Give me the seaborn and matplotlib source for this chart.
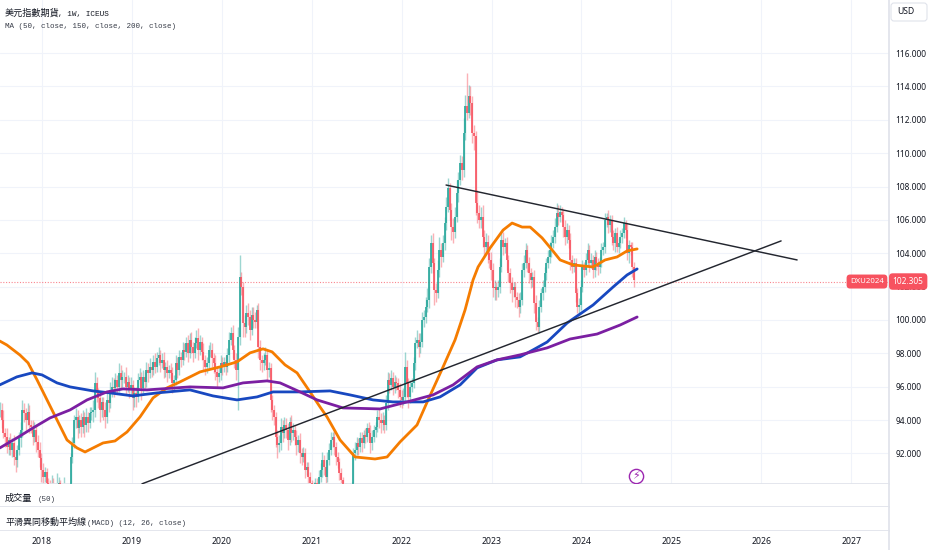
import matplotlib
matplotlib.use("Agg")
import matplotlib.pyplot as plt
from matplotlib.patches import FancyBboxPatch
from matplotlib.transforms import IdentityTransform
import numpy as np
import pandas as pd
import seaborn as sns

# weekly closes, first bar is mid 2017
closes = [
    94.6, 94.0, 93.2, 93.0, 92.4, 92.8, 92.2, 92.6, 91.8, 91.6,
    92.2, 92.9, 93.4, 94.6, 94.4, 94.0, 94.5, 93.7, 93.6, 93.0,
    93.4, 92.7, 92.2, 91.7, 91.0, 90.6, 90.9, 90.2, 89.9, 89.6,
    90.1, 89.8, 89.5, 89.9, 90.2, 89.6, 89.4, 89.8, 89.7, 89.5,
    89.9, 91.8, 92.6, 94.0, 94.2, 93.5, 94.0, 93.6, 94.2, 93.7,
    94.2, 93.8, 94.4, 94.5, 94.6, 96.2, 95.6, 95.3, 94.6, 95.1,
    94.6, 94.2, 95.2, 95.0, 95.8, 96.0, 95.9, 96.4, 96.0, 96.8,
    96.4, 96.6, 96.6, 96.0, 96.3, 95.8, 96.1, 95.3, 95.6, 95.4,
    96.4, 96.6, 95.9, 96.6, 96.3, 97.0, 96.8, 97.2, 97.0, 97.5,
    97.2, 97.7, 97.9, 97.4, 97.6, 97.0, 97.2, 96.8, 97.0, 96.8,
    96.2, 96.4, 97.4, 97.0, 97.8, 97.6, 98.2, 98.1, 98.6, 98.0,
    98.8, 98.4, 98.0, 98.6, 98.9, 98.2, 98.7, 98.1, 97.6, 97.2,
    97.4, 98.2, 98.2, 97.7, 97.4, 96.9, 96.6, 96.8, 97.4, 97.2,
    97.5, 97.2, 97.9, 98.8, 99.2, 98.2, 97.6, 97.0, 99.0, 102.6,
    102.0, 99.8, 99.6, 100.4, 100.2, 99.4, 100.3, 100.0, 99.9, 100.6,
    98.4, 97.6, 97.4, 97.6, 97.9, 97.0, 97.1, 95.2, 94.6, 94.2,
    93.0, 92.5, 92.6, 93.6, 93.2, 93.7, 93.4, 92.8, 93.9, 93.2,
    93.4, 93.0, 92.5, 92.8, 92.0, 91.8, 92.0, 91.0, 91.2, 90.6,
    90.2, 90.0, 89.8, 90.2, 90.0, 90.6, 91.0, 91.6, 91.2, 90.6,
    91.6, 92.2, 92.8, 93.0, 92.4, 91.8, 91.5, 90.8, 90.4, 90.0,
    89.9, 89.9, 89.8, 89.9, 90.0, 92.0, 92.2, 92.6, 92.4, 92.9,
    92.6, 93.1, 93.0, 93.5, 93.2, 92.6, 93.0, 93.4, 93.6, 94.2,
    94.0, 93.8, 94.0, 93.7, 95.0, 96.4, 96.1, 96.5, 96.0, 96.3,
    96.2, 95.8, 95.4, 95.2, 95.4, 97.2, 96.2, 95.4, 96.0, 96.2,
    97.4, 98.6, 98.8, 98.4, 98.7, 100.0, 100.2, 100.8, 101.2, 103.2,
    104.6, 103.4, 101.8, 101.6, 103.0, 104.2, 103.8, 104.6, 105.8, 106.8,
    107.9, 106.6, 105.6, 105.3, 106.2, 107.6, 108.4, 109.4, 109.0, 111.2,
    112.8, 112.4, 113.4, 113.0, 111.2, 111.0, 107.0, 106.4, 106.0, 106.2,
    105.0, 104.4, 104.7, 104.0, 103.6, 103.0, 101.9, 102.0, 101.8, 102.0,
    103.2, 104.8, 104.4, 104.6, 103.6, 102.8, 102.2, 101.8, 102.0, 101.4,
    101.2, 100.8, 101.2, 103.0, 103.4, 104.2, 103.4, 102.8, 102.4, 102.6,
    101.0, 99.9, 99.6, 100.8, 101.6, 102.0, 102.8, 103.4, 103.8, 104.2,
    104.6, 105.0, 105.6, 106.4, 106.2, 106.5, 106.3, 105.6, 105.0, 105.4,
    104.8, 103.6, 103.2, 103.4, 101.6, 100.8, 100.9, 102.0, 103.2, 103.0,
    103.6, 104.2, 103.4, 103.6, 103.0, 103.8, 103.4, 103.2, 103.5, 104.2,
    104.4, 106.0, 106.2, 105.7, 106.0, 105.0, 104.6, 105.2, 104.4, 104.6,
    105.0, 105.2, 105.8, 105.4, 104.0, 104.5, 104.4, 103.2, 102.4,
]

# how far each wick sticks out above / below the body
wick_up = [
    0.5, 0.4, 0.6, 0.3, 0.5, 0.2, 0.4, 0.3, 0.5, 0.4,
    0.3, 0.4, 0.5, 0.6, 0.4, 0.3, 0.5, 0.4, 0.3, 0.4,
    0.5, 0.3, 0.4, 0.5, 0.3, 0.4, 0.3, 0.2, 0.3, 0.5,
    0.6, 0.4, 0.3, 0.9, 0.4, 0.2, 0.5, 0.8, 0.3, 0.2,
    0.1, 0.2, 0.4, 0.3, 0.5, 0.4, 0.3, 0.4, 0.4, 0.3,
    0.5, 0.3, 0.4, 0.3, 0.6, 0.7, 0.4, 0.3, 0.4, 0.3,
    0.3, 0.5, 0.4, 0.3, 0.5, 0.6, 0.5, 0.4, 0.3, 0.6,
    0.5, 0.4, 0.3, 0.6, 0.4, 0.3, 0.5, 0.3, 0.4, 0.4,
    0.4, 0.5, 0.3, 0.4, 0.3, 0.5, 0.4, 0.5, 0.3, 0.4,
    0.5, 0.4, 0.5, 0.3, 0.4, 0.5, 0.3, 0.4, 0.3, 0.4,
    0.4, 0.3, 0.5, 0.4, 0.4, 0.3, 0.5, 0.4, 0.4, 0.5,
    0.4, 0.5, 0.3, 0.4, 0.5, 0.6, 0.4, 0.3, 0.5, 0.3,
    0.4, 0.3, 0.5, 0.4, 0.3, 0.5, 0.3, 0.4, 0.5, 0.4,
    0.3, 0.4, 0.4, 0.5, 0.4, 0.5, 0.3, 0.4, 0.6, 1.3,
    0.3, 0.3, 0.5, 0.5, 0.6, 0.4, 0.5, 0.5, 0.5, 0.3,
    0.4, 0.4, 0.3, 0.4, 0.5, 0.3, 0.4, 0.3, 0.3, 0.3,
    0.3, 0.4, 0.5, 0.5, 0.4, 0.5, 0.4, 0.4, 0.3, 0.4,
    0.4, 0.3, 0.4, 0.3, 0.4, 0.3, 0.4, 0.3, 0.3, 0.3,
    0.3, 0.2, 0.3, 0.3, 0.3, 0.4, 0.4, 0.5, 0.3, 0.4,
    0.5, 0.4, 0.5, 0.3, 0.4, 0.3, 0.3, 0.2, 0.3, 0.2,
    0.2, 0.3, 0.2, 0.3, 0.3, 0.3, 0.5, 0.4, 0.3, 0.4,
    0.4, 0.3, 0.4, 0.3, 0.4, 0.5, 0.4, 0.3, 0.3, 0.4,
    0.5, 0.4, 0.5, 0.3, 0.5, 0.5, 0.4, 0.5, 0.4, 0.4,
    0.3, 0.3, 0.4, 0.4, 0.5, 0.9, 0.4, 0.3, 0.4, 0.3,
    0.4, 0.4, 0.6, 0.4, 0.5, 0.5, 0.4, 0.6, 0.7, 0.5,
    0.5, 0.6, 0.3, 0.4, 0.6, 0.8, 0.4, 0.5, 0.4, 0.6,
    0.6, 0.3, 0.4, 0.5, 0.6, 0.8, 0.5, 0.5, 0.4, 0.9,
    0.7, 2.0, 0.7, 0.6, 0.4, 0.5, 0.3, 0.8, 0.5, 0.6,
    0.7, 0.4, 0.5, 0.4, 0.3, 0.5, 0.4, 0.4, 0.3, 0.4,
    0.5, 0.4, 0.5, 0.3, 0.4, 0.3, 0.3, 0.4, 0.3, 0.3,
    0.3, 0.4, 0.5, 0.4, 0.5, 0.4, 0.3, 0.4, 0.3, 0.3,
    0.4, 0.5, 0.3, 0.4, 0.3, 0.4, 0.4, 0.3, 0.4, 0.5,
    0.5, 0.4, 0.5, 0.6, 0.5, 0.4, 0.3, 0.3, 0.4, 0.4,
    0.3, 0.4, 0.3, 0.3, 0.3, 0.3, 0.4, 0.4, 0.4, 0.3,
    0.4, 0.4, 0.3, 0.4, 0.3, 0.4, 0.3, 0.3, 0.3, 0.4,
    0.3, 0.4, 0.2, 0.4, 0.3, 0.3, 0.4, 0.3, 0.4, 0.3,
    0.4, 0.3, 0.4, 0.2, 0.4, 0.3, 0.2, 0.3, 0.3,
]
wick_down = [
    0.4, 0.5, 0.3, 0.6, 0.4, 0.5, 0.3, 0.4, 0.5, 0.7,
    0.4, 0.3, 0.5, 0.4, 0.5, 0.6, 0.3, 0.5, 0.4, 0.5,
    0.3, 0.6, 0.4, 0.5, 0.7, 0.4, 0.3, 0.4, 0.3, 0.4,
    0.3, 0.4, 0.3, 0.3, 0.4, 0.3, 0.3, 0.3, 0.3, 0.3,
    0.3, 0.3, 0.4, 0.3, 0.5, 0.6, 0.3, 0.6, 0.4, 0.7,
    0.4, 0.5, 0.3, 0.4, 0.6, 0.4, 0.5, 0.6, 0.7, 0.4,
    0.6, 0.7, 0.4, 0.5, 0.3, 0.4, 0.5, 0.3, 0.4, 0.3,
    0.5, 0.4, 0.4, 0.5, 0.3, 0.5, 0.3, 0.7, 0.5, 0.6,
    0.3, 0.4, 0.7, 0.3, 0.4, 0.3, 0.5, 0.3, 0.4, 0.3,
    0.4, 0.3, 0.4, 0.5, 0.3, 0.5, 0.4, 0.5, 0.3, 0.4,
    0.6, 0.4, 0.3, 0.5, 0.3, 0.4, 0.3, 0.5, 0.3, 0.5,
    0.3, 0.4, 0.5, 0.3, 0.3, 0.6, 0.3, 0.5, 0.6, 0.5,
    0.4, 0.3, 0.4, 0.5, 0.6, 0.5, 0.6, 0.3, 0.4, 0.5,
    0.3, 0.5, 0.3, 0.4, 0.3, 0.5, 0.5, 0.6, 2.4, 0.5,
    0.5, 0.8, 0.6, 0.4, 0.5, 0.6, 0.3, 0.5, 0.4, 0.4,
    0.7, 0.6, 0.5, 0.4, 0.3, 0.6, 0.4, 0.7, 0.6, 0.5,
    0.6, 0.8, 0.4, 0.4, 0.5, 0.3, 0.5, 0.6, 0.3, 0.5,
    0.4, 0.5, 0.6, 0.4, 0.6, 0.5, 0.3, 0.5, 0.3, 0.5,
    0.4, 0.4, 0.3, 0.3, 0.4, 0.3, 0.3, 0.4, 0.5, 0.4,
    0.3, 0.3, 0.3, 0.4, 0.5, 0.5, 0.4, 0.4, 0.3, 0.3,
    0.3, 0.3, 0.3, 0.3, 0.3, 0.3, 0.4, 0.3, 0.5, 0.3,
    0.5, 0.3, 0.4, 0.3, 0.4, 0.6, 0.4, 0.3, 0.4, 0.3,
    0.5, 0.6, 0.4, 0.5, 0.3, 0.4, 0.5, 0.3, 0.5, 0.4,
    0.4, 0.5, 0.6, 0.5, 0.3, 0.4, 0.8, 0.7, 0.4, 0.3,
    0.3, 0.4, 0.3, 0.6, 0.4, 0.3, 0.4, 0.4, 0.3, 0.5,
    0.4, 0.6, 0.9, 0.5, 0.3, 0.4, 0.6, 0.3, 0.4, 0.4,
    0.3, 0.6, 0.8, 0.7, 0.4, 0.3, 0.5, 0.3, 0.6, 0.4,
    0.4, 0.4, 0.3, 0.7, 0.6, 0.8, 0.7, 0.6, 0.5, 0.5,
    0.6, 0.5, 0.4, 0.6, 0.5, 0.6, 0.5, 0.7, 0.6, 0.4,
    0.4, 0.3, 0.5, 0.4, 0.6, 0.5, 0.6, 0.7, 0.4, 0.6,
    0.5, 0.6, 0.4, 0.3, 0.4, 0.3, 0.5, 0.6, 0.5, 0.4,
    0.6, 0.5, 0.3, 0.4, 0.3, 0.4, 0.3, 0.4, 0.3, 0.4,
    0.4, 0.3, 0.4, 0.3, 0.5, 0.3, 0.4, 0.6, 0.5, 0.4,
    0.5, 0.6, 0.4, 0.3, 0.5, 0.4, 0.5, 0.3, 0.3, 0.4,
    0.3, 0.4, 0.5, 0.3, 0.5, 0.4, 0.4, 0.5, 0.4, 0.3,
    0.3, 0.4, 0.4, 0.5, 0.4, 0.5, 0.4, 0.5, 0.3, 0.4,
    0.3, 0.4, 0.3, 0.5, 0.4, 0.6, 0.5, 0.6, 0.4,
]

# moving averages, (year, price) pairs
ma50_years = [2017.53, 2017.61, 2017.755, 2017.845, 2017.945, 2018.056, 2018.167, 2018.278, 2018.39, 2018.479,
              2018.59, 2018.679, 2018.812, 2018.946, 2019.09, 2019.235, 2019.39, 2019.535, 2019.758, 2019.98,
              2020.169, 2020.314, 2020.458, 2020.559, 2020.703, 2020.837, 2020.981, 2021.092, 2021.17, 2021.315,
              2021.482, 2021.704, 2021.838, 2021.982, 2022.171, 2022.294, 2022.461, 2022.594, 2022.705, 2022.794,
              2022.85, 2022.984, 2023.128, 2023.228, 2023.34, 2023.429, 2023.562, 2023.673, 2023.762, 2023.907,
              2024.129, 2024.263, 2024.396, 2024.507, 2024.619]
ma50_vals = [98.74, 98.50, 97.9, 97.43, 96.41, 95.21, 94.01, 92.81, 92.33, 92.09,
             92.39, 92.63, 92.75, 93.29, 94.19, 95.33, 95.93, 96.29, 96.89, 97.19,
             97.49, 98.03, 98.27, 98.09, 97.31, 96.83, 95.69, 94.79, 94.19, 92.81,
             91.79, 91.67, 91.79, 92.69, 93.71, 95.21, 97.19, 98.81, 100.6, 102.4,
             103.18, 104.32, 105.39, 105.81, 105.57, 105.57, 104.92, 104.2, 103.6, 103.3,
             103.18, 103.6, 103.78, 104.14, 104.26]

ma150_years = [2017.53, 2017.72, 2017.889, 2018.0, 2018.167, 2018.312, 2018.567, 2018.757, 2019.012, 2019.279,
               2019.646, 2019.902, 2020.169, 2020.392, 2020.57, 2020.87, 2021.204, 2021.426, 2021.682, 2021.904,
               2022.238, 2022.427, 2022.65, 2022.839, 2023.061, 2023.317, 2023.462, 2023.618, 2023.84, 2024.129,
               2024.352, 2024.507, 2024.619]
ma150_vals = [96.11, 96.59, 96.83, 96.71, 96.23, 95.99, 95.75, 95.63, 95.45, 95.63,
              95.81, 95.45, 95.21, 95.39, 95.69, 95.69, 95.75, 95.51, 95.21, 95.09,
              95.09, 95.39, 96.11, 97.13, 97.61, 97.79, 98.21, 98.68, 99.82, 100.9,
              101.98, 102.7, 103.06]

ma200_years = [2017.53, 2017.72, 2017.9, 2018.089, 2018.312, 2018.501, 2018.723, 2018.901, 2019.168, 2019.646,
               2020.013, 2020.236, 2020.503, 2020.648, 2020.87, 2021.059, 2021.348, 2021.76, 2022.06, 2022.349,
               2022.572, 2022.839, 2023.061, 2023.317, 2023.618, 2023.873, 2024.174, 2024.43, 2024.619]
ma200_vals = [92.33, 92.93, 93.53, 94.13, 94.61, 95.21, 95.69, 95.87, 95.81, 95.99,
              95.93, 96.23, 96.35, 96.23, 95.69, 95.21, 94.73, 94.67, 95.09, 95.51,
              96.11, 97.19, 97.61, 97.91, 98.33, 98.86, 99.16, 99.7, 100.18]

# hand drawn trend lines
falling_years = [2022.494, 2026.398]
falling_vals = [108.09, 103.60]
rising_years = [2019.112, 2026.22]
rising_vals = [90.18, 104.74]

last_price = 102.305
signal_year = 2024.61
signal_price = 90.62

price_ticks = list(range(92, 118, 2))
year_ticks = list(range(2018, 2028))

GRID = "#f0f3fa"
BORDER = "#e0e3eb"
UP = "#26a69a"
DOWN = "#f7525f"
TEXT = "#131722"
CJK = ["Liberation Mono", "Noto Sans CJK TC", "DejaVu Sans"]

sns.set_theme(style="white")
plt.rcParams["font.family"] = ["Noto Sans", "DejaVu Sans"]

W, H = 932, 550
PANE_R, PANE_B, VOL_B, MACD_B = 889, 484, 507, 531
YEAR_L, YEAR_R = 2017.533, 2027.42
PRICE_LO, PRICE_HI = 90.17, 119.18


def pane(top, bottom):
    ax = fig.add_axes([0, 1 - bottom / H, PANE_R / W, (bottom - top) / H])
    ax.set_xlim(YEAR_L, YEAR_R)
    for s in ax.spines.values():
        s.set_visible(False)
    ax.spines["bottom"].set_visible(True)
    ax.spines["bottom"].set_color(BORDER)
    ax.spines["right"].set_visible(True)
    ax.spines["right"].set_color(BORDER)
    ax.set_yticks([])
    ax.set_xticks([])
    return ax


def label(x, y, s, size, color=TEXT):
    # y is the text baseline so mixed fonts line up
    fig.text(x / W, 1 - y / H, s, family=CJK, fontsize=size, color=color, va="baseline")


fig = plt.figure(figsize=(W / 100, H / 100), dpi=100, facecolor="white")

ax = pane(0, PANE_B)
ax_vol = pane(PANE_B, VOL_B)
ax_macd = pane(VOL_B, MACD_B)
ax_time = pane(MACD_B, H)
ax_time.spines["bottom"].set_visible(False)

ax.set_ylim(PRICE_LO, PRICE_HI)
ax.set_yticks(price_ticks)
ax.set_yticklabels([f"{p}.000" for p in price_ticks])
ax.yaxis.tick_right()
ax.tick_params(axis="y", length=0, pad=4.5, labelsize=6.0, colors=TEXT)
ax.set_xticks(year_ticks)
ax.tick_params(axis="x", length=0, labelbottom=False)
ax.grid(True, color=GRID, lw=0.8)
ax.set_axisbelow(True)

# candles
bars = pd.DataFrame({"close": closes, "up": wick_up, "down": wick_down})
bars["open"] = bars["close"].shift(1).fillna(bars["close"])
bars["year"] = YEAR_L + np.arange(len(bars)) * 7 / 365.25
bars["top"] = bars[["open", "close"]].max(axis=1)
bars["bot"] = bars[["open", "close"]].min(axis=1)
bars["high"] = bars["top"] + bars["up"]
bars["low"] = bars["bot"] - bars["down"]
bars["color"] = np.where(bars["close"] >= bars["open"], UP, DOWN)

ax.vlines(bars["year"], bars["low"], bars["high"], colors=bars["color"], lw=1.0, alpha=0.45, zorder=2)
ax.vlines(bars["year"], bars["bot"], bars["top"], colors=bars["color"], lw=1.2, zorder=3)

ax.axhline(last_price, color=DOWN, lw=0.8, ls=(0, (1, 1.5)), alpha=0.7, zorder=2)

# moving averages
ma_lines = [(ma50_years, ma50_vals, "#f57c00"), (ma150_years, ma150_vals, "#1848c0"), (ma200_years, ma200_vals, "#7b1fa2")]
for years, vals, color in ma_lines:
    sns.lineplot(x=years, y=vals, ax=ax, color=color, lw=2.0, sort=False, estimator=None, zorder=4)

# trend lines
for years, vals in [(falling_years, falling_vals), (rising_years, rising_vals)]:
    sns.lineplot(x=years, y=vals, ax=ax, color="#23262f", lw=1.05, sort=False, estimator=None, zorder=5)

ax.set_xlim(YEAR_L, YEAR_R)
ax.set_ylim(PRICE_LO, PRICE_HI)
ax.set_xlabel("")
ax.set_ylabel("")

# signal icon
ax.scatter([signal_year], [signal_price], s=105, facecolor="white", edgecolor="#9c27b0", lw=1.0, zorder=6)
ax.text(signal_year, signal_price, "\u26a1", color="#9c27b0", fontsize=8, ha="center", va="center",
        family="DejaVu Sans", zorder=7)

# last price tags
trans = ax.get_yaxis_transform()
box = dict(boxstyle="round,pad=0.45", facecolor=DOWN, edgecolor="none")
ax.text(0.9942, last_price, "DXU2024", transform=trans, ha="right", va="center", color="white",
        fontsize=5.6, bbox=box, zorder=20, clip_on=False)
ax.text(1.0042, last_price, "102.305", transform=trans, ha="left", va="center", color="white",
        fontsize=6.0, bbox=box, zorder=20, clip_on=False)

# year labels
ax_time.set_ylim(0, 1)
for y in year_ticks:
    ax_time.text(y, 0.45, str(y), ha="center", va="center", fontsize=6.3, fontweight="bold", color=TEXT)

# header and pane titles
label(5, 16, "美元指數期貨", 6.6)
label(58, 16, ", 1W, ICEUS", 5.6)
label(5, 27.5, "MA (50, close, 150, close, 200, close)", 5.4, "#363b47")
label(5, 501, "成交量", 6.6)
label(38, 501, "(50)", 5.4, "#363b47")
label(5, 525, "平滑異同移動平均線", 6.5)
label(87, 525, "(MACD) (12, 26, close)", 5.4, "#363b47")

usd_box = FancyBboxPatch((891, 529), 36, 18, boxstyle="round,pad=0,rounding_size=3", transform=IdentityTransform(),
                         facecolor="white", edgecolor=BORDER, lw=0.8)
fig.add_artist(usd_box)
fig.text(897 / W, 1 - 11 / H, "USD", fontsize=6.2, color=TEXT, va="center")

fig.savefig("out.png", dpi=100)
